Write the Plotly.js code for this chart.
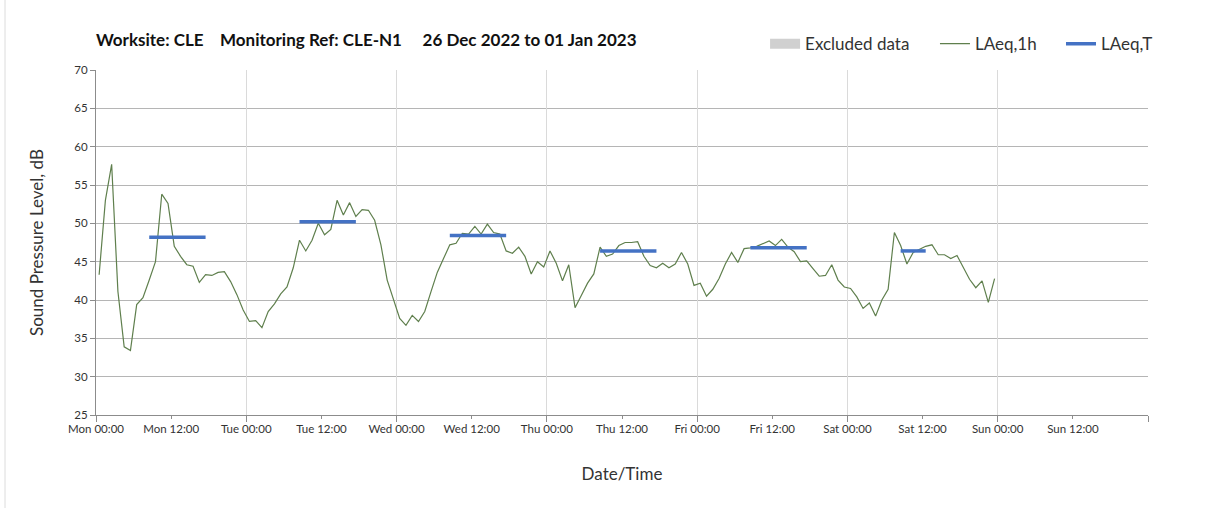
<!DOCTYPE html>
<html>
<head>
<meta charset="utf-8">
<script src="https://cdn.plot.ly/plotly-3.0.1.min.js"></script>
<style>html,body{margin:0;padding:0;background:#fff;}#chart{width:1208px;height:508px;}</style>
</head>
<body>
<div id="chart"></div>
<script>
// Hourly LAeq,1h values, first hour starting Mon 26 Dec 2022 00:00 (plotted at hour centre)
const firstHour = '2022-12-26T00:30:00';
const laeq1h = [
  43.3, 53.0, 57.7, 41.1, 33.9, 33.4, 39.4, 40.3, 42.6, 45.0, 53.8, 52.6,
  47.0, 45.7, 44.6, 44.4, 42.3, 43.3, 43.2, 43.6, 43.7, 42.4, 40.7, 38.7,
  37.2, 37.3, 36.4, 38.5, 39.5, 40.8, 41.7, 44.2, 47.8, 46.4, 47.8, 50.0,
  48.5, 49.2, 53.0, 51.1, 52.7, 50.9, 51.8, 51.7, 50.4, 47.2, 42.6, 40.0,
  37.6, 36.7, 38.0, 37.2, 38.5, 41.1, 43.6, 45.4, 47.2, 47.4, 48.7, 48.6,
  49.6, 48.6, 49.9, 48.8, 48.6, 46.4, 46.1, 46.9, 45.7, 43.4, 45.0, 44.3,
  46.4, 44.8, 42.5, 44.6, 39.0, 40.6, 42.2, 43.4, 46.9, 45.7, 46.0, 47.1,
  47.5, 47.5, 47.6, 45.7, 44.5, 44.2, 44.8, 44.2, 44.7, 46.2, 44.7, 41.9,
  42.2, 40.5, 41.4, 42.8, 44.7, 46.2, 44.9, 46.7, 46.8, 47.0, 47.4, 47.7,
  47.1, 47.9, 46.9, 46.3, 45.0, 45.1, 44.1, 43.1, 43.2, 44.6, 42.6, 41.7,
  41.5, 40.4, 38.9, 39.6, 37.9, 40.0, 41.4, 48.8, 47.1, 44.7, 46.2, 46.6,
  47.0, 47.2, 45.9, 45.9, 45.4, 45.8, 44.3, 42.7, 41.6, 42.5, 39.7, 42.8
];

// LAeq,T periods (daytime assessment periods)
const periodStart = ['2022-12-26 08:30', '2022-12-27 08:30', '2022-12-28 08:30',
                     '2022-12-29 08:30', '2022-12-30 08:30', '2022-12-31 08:30'];
const periodEnd   = ['2022-12-26 17:30', '2022-12-27 17:30', '2022-12-28 17:30',
                     '2022-12-29 17:30', '2022-12-30 17:30', '2022-12-31 12:30'];
const laeqT = [48.2, 50.2, 48.4, 46.4, 46.8, 46.4];

// Excluded data (none in this week)
const excludedX = [null];
const excludedY = [null];

// x tick labels (every 12 h)
const tickVals = ['2022-12-26 00:00', '2022-12-26 12:00', '2022-12-27 00:00', '2022-12-27 12:00',
                  '2022-12-28 00:00', '2022-12-28 12:00', '2022-12-29 00:00', '2022-12-29 12:00',
                  '2022-12-30 00:00', '2022-12-30 12:00', '2022-12-31 00:00', '2022-12-31 12:00',
                  '2023-01-01 00:00', '2023-01-01 12:00'];
const tickLabels = ['Mon 00:00', 'Mon 12:00', 'Tue 00:00', 'Tue 12:00', 'Wed 00:00', 'Wed 12:00',
                    'Thu 00:00', 'Thu 12:00', 'Fri 00:00', 'Fri 12:00', 'Sat 00:00', 'Sat 12:00',
                    'Sun 00:00', 'Sun 12:00'];

const xRange = ['2022-12-26 00:00', '2023-01-02 00:00'];
const titleText = 'Worksite: CLE\u00a0\u00a0\u00a0 Monitoring Ref: CLE-N1\u00a0\u00a0\u00a0\u00a0 26 Dec 2022 to 01 Jan 2023';

// build hourly time stamps
const t0 = new Date(firstHour + 'Z').getTime();
const hourX = laeq1h.map((_, i) => new Date(t0 + i * 3600000).toISOString().slice(0, 19).replace('T', ' '));

const tx = [], ty = [];
periodStart.forEach((s, i) => {
  tx.push(s, periodEnd[i], null);
  ty.push(laeqT[i], laeqT[i], null);
});

const FONT = 'Lato, "Open Sans", sans-serif';
const legFont = {family: FONT, size: 17, color: '#333333'};
const legBase = {orientation: 'h', xanchor: 'left', y: 1.075, yanchor: 'middle',
                 font: legFont, bgcolor: 'rgba(0,0,0,0)', borderwidth: 0};

const traces = [
  {type: 'scatter', mode: 'lines', x: excludedX, y: excludedY, name: 'Excluded data', legend: 'legend',
   line: {color: '#d0d0d0', width: 10}, xaxis: 'x', yaxis: 'y', hoverinfo: 'skip'},
  {type: 'scatter', mode: 'lines', x: hourX, y: laeq1h, name: 'LAeq,1h', legend: 'legend2',
   line: {color: '#5f7f4d', width: 1.2}, xaxis: 'x', yaxis: 'y'},
  {type: 'scatter', mode: 'lines', x: tx, y: ty, name: 'LAeq,T', legend: 'legend3',
   line: {color: '#4472c4', width: 3.5}, connectgaps: false, xaxis: 'x', yaxis: 'y'},
  {type: 'scatter', mode: 'lines', x: xRange, y: [null, null], showlegend: false,
   hoverinfo: 'skip', xaxis: 'x2', yaxis: 'y'}
];

const layout = {
  width: 1208, height: 508,
  margin: {l: 96, r: 60, t: 70, b: 93},
  paper_bgcolor: '#ffffff', plot_bgcolor: '#ffffff',
  font: {family: FONT, color: '#333333', size: 12},
  title: {text: titleText, font: {family: FONT, size: 17, color: '#111111', weight: 'bold'},
          xref: 'paper', x: 0, xanchor: 'left', yref: 'container', y: 0.921, yanchor: 'middle'},
  showlegend: true,
  legend: Object.assign({}, legBase, {x: 0.636}),
  legend2: Object.assign({}, legBase, {x: 0.7975}),
  legend3: Object.assign({}, legBase, {x: 0.9173}),
  xaxis: {type: 'date', range: xRange, tickmode: 'array', tickvals: tickVals, ticktext: tickLabels,
          showgrid: false, zeroline: false,
          showline: true, linecolor: '#8c8c8c', linewidth: 1,
          ticks: 'outside', ticklen: 3, tickcolor: '#8c8c8c',
          tickfont: {family: FONT, size: 11.5, color: '#333333'},
          title: {text: 'Date/Time', font: {family: FONT, size: 17, color: '#333333'}, standoff: 34}},
  xaxis2: {type: 'date', range: xRange, overlaying: 'x', anchor: 'y', side: 'bottom',
           tick0: '2022-12-26', dtick: 86400000, showgrid: true, gridcolor: '#dadada', gridwidth: 1,
           showticklabels: false, ticks: 'outside', ticklen: 6, tickcolor: '#8c8c8c',
           showline: false, zeroline: false},
  yaxis: {range: [25, 70], dtick: 5, showgrid: true, gridcolor: '#b5b5b5', gridwidth: 1,
          zeroline: false, showline: true, linecolor: '#8c8c8c', linewidth: 1,
          ticks: 'outside', ticklen: 5, tickcolor: '#8c8c8c',
          tickfont: {family: FONT, size: 11.5, color: '#333333'},
          title: {text: 'Sound Pressure Level, dB', font: {family: FONT, size: 17, color: '#333333'}, standoff: 26}},
  shapes: [
    {type: 'line', xref: 'paper', yref: 'paper', x0: -0.0865, x1: -0.0865, y0: -0.27, y1: 1.203,
     line: {color: '#dcdcdc', width: 1}}
  ]
};

Plotly.newPlot('chart', traces, layout, {displayModeBar: false, staticPlot: true});
</script>
</body>
</html>
